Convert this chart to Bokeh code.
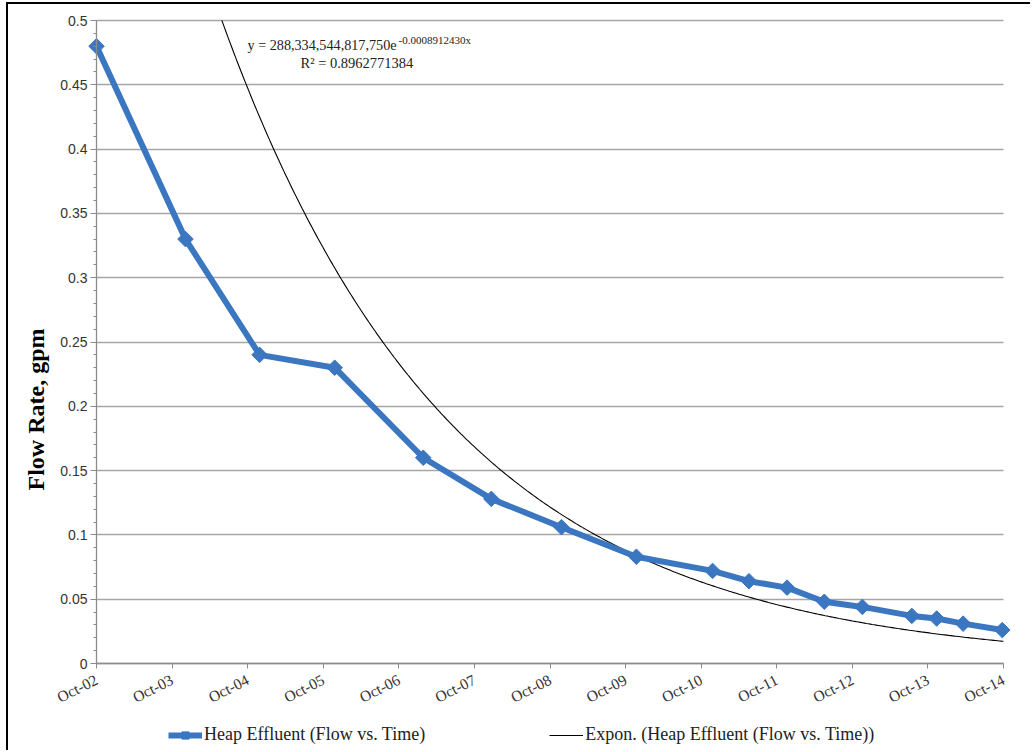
import numpy as np
import pandas as pd
from bokeh.plotting import figure
from bokeh.models import (Range1d, FixedTicker, Legend, LegendItem, Label, Title)
from bokeh.embed import file_html
from bokeh.resources import INLINE

# ---------------- data ----------------
sample_dates = ["2002-10-01", "2003-12-05", "2004-11-27", "2005-11-25", "2007-01-27",
                "2007-12-22", "2008-11-25", "2009-11-22", "2010-11-25", "2011-05-20",
                "2011-11-20", "2012-05-18", "2012-11-18", "2013-07-15", "2013-11-12",
                "2014-03-20", "2014-09-25"]
flow_gpm = [0.48, 0.33, 0.24, 0.23, 0.16, 0.128, 0.106, 0.083, 0.072, 0.064,
            0.059, 0.048, 0.044, 0.037, 0.035, 0.031, 0.026]

x_tick_dates = ["2002-10-01", "2003-10-01", "2004-10-01", "2005-10-01", "2006-10-01",
                "2007-10-01", "2008-10-01", "2009-10-01", "2010-10-01", "2011-10-01",
                "2012-10-01", "2013-10-01", "2014-10-01"]
x_tick_labels = ["Oct-02", "Oct-03", "Oct-04", "Oct-05", "Oct-06", "Oct-07", "Oct-08",
                 "Oct-09", "Oct-10", "Oct-11", "Oct-12", "Oct-13", "Oct-14"]

y_ticks = [0, 0.05, 0.1, 0.15, 0.2, 0.25, 0.3, 0.35, 0.4, 0.45, 0.5]
y_tick_labels = ["0", "0.05", "0.1", "0.15", "0.2", "0.25", "0.3", "0.35", "0.4", "0.45", "0.5"]

# exponential trendline shown on the chart (x = Excel date serial)
trend_a = 288334544817750.0
trend_b = -0.0008912430
trend_r2 = 0.8962771384

series_name = "Heap Effluent (Flow vs. Time)"
trend_name = "Expon. (Heap Effluent (Flow vs. Time))"
y_label = "Flow Rate, gpm"

# ---------------- layout (pixels) ----------------
W, H = 1024, 748
CANVAS_X, CANVAS_Y = 8, 4            # after the css border / margin
AXIS_X0, AXIS_X1 = 96, 1003          # pixel of first / last date tick
AXIS_Y0, AXIS_Y1 = 663, 20           # pixel of 0 and 0.5
FRAME_L, FRAME_R = 52, 1014
FRAME_T, FRAME_B = 8, 748

# ---------------- derived ----------------
x_dates = pd.to_datetime(sample_dates)
tick_dt = pd.to_datetime(x_tick_dates)
tick_ms = [float(t.value // 10**6) for t in tick_dt]
t0, t1 = tick_ms[0], tick_ms[-1]
ms_per_px = (t1 - t0) / (AXIS_X1 - AXIS_X0)
x_start = t0 - (AXIS_X0 - FRAME_L) * ms_per_px
x_end = t1 + (FRAME_R - AXIS_X1) * ms_per_px
val_per_px = 0.5 / (AXIS_Y0 - AXIS_Y1)
y_top = 0.5 + (AXIS_Y1 - FRAME_T) * val_per_px
y_bottom = -(FRAME_B - AXIS_Y0) * val_per_px

excel_epoch = pd.Timestamp("1899-12-30")
s0 = (tick_dt[0] - excel_epoch).days
s1 = (tick_dt[-1] - excel_epoch).days
s_top = np.log(0.5 / trend_a) / trend_b          # where the trendline leaves the 0.5 axis top
serial = np.linspace(max(s0, s_top), s1, 400)
trend_dates = excel_epoch + pd.to_timedelta(serial, unit="D")
trend_vals = trend_a * np.exp(trend_b * serial)

BLUE = "#3B76C1"
SERIF = "Liberation Serif"
AXC = "#8c8c8c"

p = figure(width=W, height=H, x_axis_type="datetime",
           x_range=Range1d(x_start, x_end), y_range=Range1d(y_bottom, y_top),
           output_backend="svg", toolbar_location=None,
           min_border_left=FRAME_L - CANVAS_X, min_border_right=CANVAS_X + W - FRAME_R,
           min_border_top=FRAME_T - CANVAS_Y, min_border_bottom=CANVAS_Y + H - FRAME_B)
p.styles = {"border-left": "2px solid black", "border-top": "2px solid black",
            "margin-left": "6px", "margin-top": "2px"}
p.outline_line_color = None
p.background_fill_color = "white"
p.border_fill_color = "white"

# grid
p.xgrid.visible = False
p.ygrid.ticker = FixedTicker(ticks=y_ticks)
p.ygrid.grid_line_color = "#a6a6a6"
p.ygrid.grid_line_width = 1.3
try:
    p.ygrid.cross_bounds = (t0, t1)
except Exception:
    p.ygrid.visible = False
    p.segment(x0=[t0] * len(y_ticks), x1=[t1] * len(y_ticks), y0=y_ticks, y1=y_ticks,
              line_color="#a6a6a6", line_width=1.3)

# x axis (drawn at y = 0 inside the frame)
p.xaxis.fixed_location = 0
p.xaxis.bounds = (t0, t1)
p.xaxis.ticker = FixedTicker(ticks=tick_ms)
p.xaxis.major_label_overrides = {ms: lab for ms, lab in zip(tick_ms, x_tick_labels)}
p.xaxis.major_label_orientation = 0.47
p.xaxis.axis_line_color = AXC
p.xaxis.axis_line_width = 1.3
p.xaxis.major_tick_line_color = AXC
p.xaxis.major_tick_out = 5
p.xaxis.major_tick_in = 0
p.xaxis.minor_tick_line_color = None
p.xaxis.major_label_text_font = SERIF
p.xaxis.major_label_text_font_size = "15.5px"
p.xaxis.major_label_text_color = "#333333"
p.xaxis.major_label_standoff = 10

# y axis (drawn at the first date inside the frame)
minor = [i * 0.01 for i in range(51)]
p.yaxis.fixed_location = t0
p.yaxis.ticker = FixedTicker(ticks=y_ticks, minor_ticks=minor)
p.yaxis.bounds = (0, 0.5)
p.yaxis.major_label_overrides = {t: lab for t, lab in zip(y_ticks, y_tick_labels)}
p.yaxis.axis_line_color = AXC
p.yaxis.axis_line_width = 1.3
p.yaxis.major_tick_line_color = AXC
p.yaxis.minor_tick_line_color = AXC
p.yaxis.major_tick_out = 6
p.yaxis.major_tick_in = 0
p.yaxis.minor_tick_out = 3
p.yaxis.minor_tick_in = 0
p.yaxis.major_label_text_font = "Liberation Sans"
p.yaxis.major_label_text_font_size = "14px"
p.yaxis.major_label_text_color = "#333333"
p.yaxis.major_label_standoff = 3

# data
trend_r = p.line(trend_dates, trend_vals, line_color="black", line_width=1.1)
line_r = p.line(x_dates, flow_gpm, line_color=BLUE, line_width=6, line_join="round")
mark_r = p.scatter(x_dates, flow_gpm, marker="square", angle=np.pi / 4, size=11,
                   fill_color=BLUE, line_color=BLUE)

# equation annotation
p.add_layout(Label(x=t0, y=0.4813, x_offset=151, text="y = 288,334,544,817,750e",
                   text_font=SERIF, text_font_size="14.2px", text_color="#222222",
                   text_baseline="alphabetic"))
p.add_layout(Label(x=t0, y=0.4850, x_offset=302, text="-0.0008912430x",
                   text_font=SERIF, text_font_size="11px", text_color="#222222",
                   text_baseline="alphabetic"))
p.add_layout(Label(x=t0, y=0.4673, x_offset=204, text="R\u00b2 = %.10f" % trend_r2,
                   text_font=SERIF, text_font_size="14.5px", text_color="#222222",
                   text_baseline="alphabetic"))

# y axis title (shifted along the axis like the original)
p.add_layout(Title(text=y_label, align="left", offset=FRAME_B - 490, standoff=6,
                   vertical_align="middle",
                   text_font=SERIF, text_font_style="bold", text_font_size="24px",
                   text_color="black"), "left")

legend = Legend(items=[LegendItem(label=series_name, renderers=[line_r, mark_r]),
                       LegendItem(label=trend_name, renderers=[trend_r])],
                location=(168 - FRAME_L, 3), orientation="horizontal", spacing=124,
                glyph_width=34, glyph_height=18, label_standoff=2, padding=0, margin=0,
                border_line_color=None, background_fill_alpha=0,
                label_text_font=SERIF, label_text_font_size="18px",
                label_text_color="#222222")
p.add_layout(legend, "center")

open("out.html", "w").write(file_html(p, INLINE))
